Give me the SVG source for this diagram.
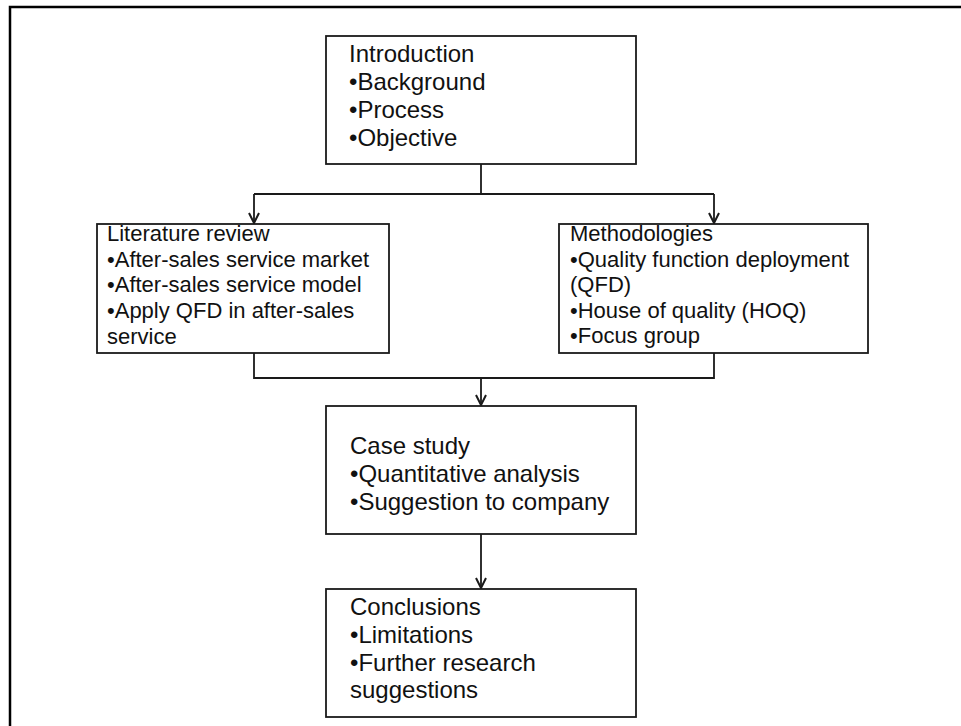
<svg xmlns="http://www.w3.org/2000/svg" width="961" height="726" viewBox="0 0 961 726">
<style>
.box{fill:#fff;stroke:#1a1a1a;stroke-width:1.8}
.ln{fill:none;stroke:#1a1a1a;stroke-width:1.8}
.t24{font-family:"Liberation Sans",Arial,sans-serif;font-size:24px;fill:#111}
.t22{font-family:"Liberation Sans",Arial,sans-serif;font-size:22px;fill:#111}
</style>
<defs>
<marker id="ah" markerUnits="userSpaceOnUse" markerWidth="14" markerHeight="14" refX="11" refY="6" orient="auto">
<path d="M1,1 L11,6 L1,11" fill="none" stroke="#1a1a1a" stroke-width="2"/>
</marker>
</defs>
<rect width="961" height="726" fill="#fff"/>
<path d="M10,726 V7 H961" fill="none" stroke="#000" stroke-width="2.5"/>
<g id="connectors">
<path class="ln" d="M481,164 V194"/>
<path class="ln" d="M254,194 H714"/>
<path class="ln" d="M254,194 V223" marker-end="url(#ah)"/>
<path class="ln" d="M714,194 V223" marker-end="url(#ah)"/>
<path class="ln" d="M254,353 V378 H714 V353"/>
<path class="ln" d="M481,378 V405" marker-end="url(#ah)"/>
<path class="ln" d="M481,534 V588" marker-end="url(#ah)"/>
</g>
<g id="introduction">
<rect class="box" x="326" y="36" width="310" height="128"/>
<text class="t24" x="349" y="62">Introduction</text>
<text class="t24" x="349" y="90">•Background</text>
<text class="t24" x="349" y="118">•Process</text>
<text class="t24" x="349" y="146">•Objective</text>
</g>
<g id="literature">
<rect class="box" x="97" y="224" width="292" height="129"/>
<text class="t22" x="107" y="241">Literature review</text>
<text class="t22" x="107" y="267">•After-sales service market</text>
<text class="t22" x="107" y="292">•After-sales service model</text>
<text class="t22" x="107" y="318">•Apply QFD in after-sales</text>
<text class="t22" x="107" y="344">service</text>
</g>
<g id="methodologies">
<rect class="box" x="559" y="224" width="309" height="129"/>
<text class="t22" x="570" y="241">Methodologies</text>
<text class="t22" x="570" y="267">•Quality function deployment</text>
<text class="t22" x="570" y="292">(QFD)</text>
<text class="t22" x="570" y="318">•House of quality (HOQ)</text>
<text class="t22" x="570" y="343">•Focus group</text>
</g>
<g id="casestudy">
<rect class="box" x="326" y="406" width="310" height="128"/>
<text class="t24" x="350" y="454">Case study</text>
<text class="t24" x="350" y="482">•Quantitative analysis</text>
<text class="t24" x="350" y="510">•Suggestion to company</text>
</g>
<g id="conclusions">
<rect class="box" x="326" y="589" width="310" height="128"/>
<text class="t24" x="350" y="615">Conclusions</text>
<text class="t24" x="350" y="643">•Limitations</text>
<text class="t24" x="350" y="671">•Further research</text>
<text class="t24" x="350" y="698">suggestions</text>
</g>
</svg>
